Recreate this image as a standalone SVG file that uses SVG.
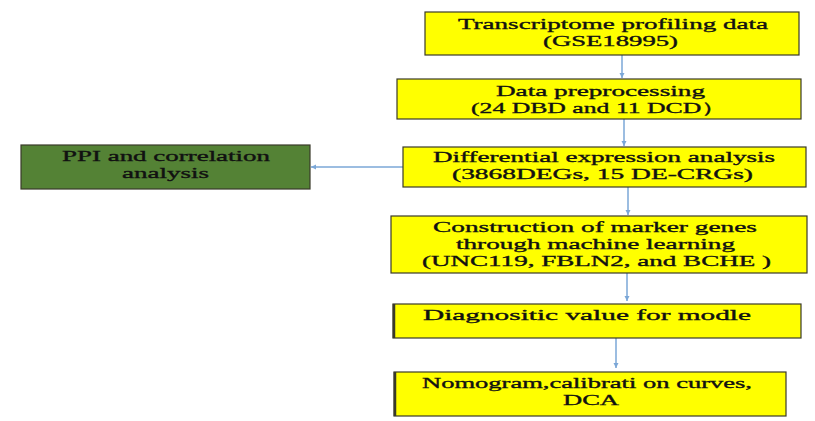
<svg xmlns="http://www.w3.org/2000/svg" width="815" height="421" viewBox="0 0 815 421">
<defs>
<style>
.box{fill:#ffff00;stroke:#3a3a2a;stroke-width:1.2}
.green{fill:#548235;stroke:#3a3a2a;stroke-width:1.2}
.edge{stroke:#3a3a2a;stroke-width:2.5}
.t{font-family:"Liberation Serif","Times New Roman",serif;font-size:15px;fill:#111;stroke:#111;stroke-width:0.35}
.conn{stroke:#7ba7d7;stroke-width:1.5;fill:none;marker-end:url(#ah)}
</style>
<marker id="ah" markerWidth="6" markerHeight="6" refX="5" refY="3" orient="auto" markerUnits="userSpaceOnUse">
<path d="M0,0.5 L5,3 L0,5.5 Z" fill="#7ba7d7"/>
</marker>
</defs>
<rect width="815" height="421" fill="#ffffff"/>
<g id="connectors">
<line class="conn" x1="622" y1="55" x2="622" y2="78"/>
<line class="conn" x1="624" y1="119" x2="624" y2="146"/>
<line class="conn" x1="628" y1="187" x2="628" y2="215"/>
<line class="conn" x1="627" y1="273" x2="627" y2="301"/>
<line class="conn" x1="616" y1="338" x2="616" y2="368"/>
<line class="conn" x1="403" y1="167" x2="311" y2="167"/>
</g>
<g id="node-transcriptome">
<rect class="box" x="425" y="12" width="374" height="43"/>
<text class="t" x="458" y="29" textLength="310" lengthAdjust="spacingAndGlyphs">Transcriptome profiling data</text>
<text class="t" x="543" y="46" textLength="135" lengthAdjust="spacingAndGlyphs">(GSE18995)</text>
</g>
<g id="node-preprocessing">
<rect class="box" x="397" y="79" width="404" height="40"/>
<text class="t" x="496" y="96" textLength="209" lengthAdjust="spacingAndGlyphs">Data preprocessing</text>
<text class="t" x="471" y="113" textLength="256" lengthAdjust="spacingAndGlyphs">(24 DBD and 11 DCD）</text>
</g>
<g id="node-differential">
<rect class="box" x="403" y="147" width="403" height="40"/>
<text class="t" x="433" y="162" textLength="342" lengthAdjust="spacingAndGlyphs">Differential expression analysis</text>
<text class="t" x="452" y="179" textLength="301" lengthAdjust="spacingAndGlyphs">(3868DEGs, 15 DE-CRGs)</text>
</g>
<g id="node-ppi">
<rect class="green" x="21" y="145" width="289" height="44"/>
<text class="t" x="62" y="161" textLength="208" lengthAdjust="spacingAndGlyphs">PPI and correlation</text>
<text class="t" x="122" y="178" textLength="87" lengthAdjust="spacingAndGlyphs">analysis</text>
</g>
<g id="node-construction">
<rect class="box" x="391" y="216" width="416" height="57"/>
<text class="t" x="433" y="232" textLength="324" lengthAdjust="spacingAndGlyphs">Construction of marker genes</text>
<text class="t" x="456" y="249" textLength="279" lengthAdjust="spacingAndGlyphs">through machine learning</text>
<text class="t" x="422" y="266" textLength="349" lengthAdjust="spacingAndGlyphs">(UNC119, FBLN2, and BCHE )</text>
</g>
<g id="node-diagnositic">
<rect class="box" x="393" y="304" width="408" height="34"/>
<line class="edge" x1="394" y1="304" x2="394" y2="338"/>
<text class="t" x="423" y="320" textLength="328" lengthAdjust="spacingAndGlyphs">Diagnositic value for modle</text>
</g>
<g id="node-nomogram">
<rect class="box" x="394" y="372" width="392" height="44"/>
<line class="edge" x1="395" y1="372" x2="395" y2="416"/>
<text class="t" x="422" y="388" textLength="330" lengthAdjust="spacingAndGlyphs">Nomogram,calibrati on curves,</text>
<text class="t" x="563" y="405" textLength="56" lengthAdjust="spacingAndGlyphs">DCA</text>
</g>
</svg>
